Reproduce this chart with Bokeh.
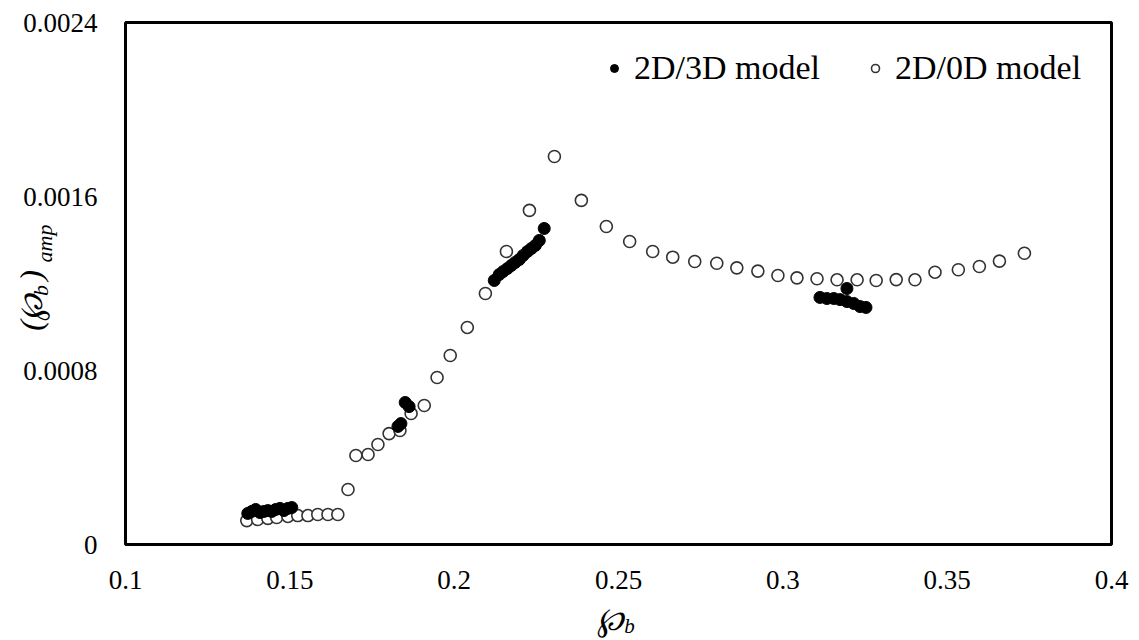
import math
from bokeh.plotting import figure
from bokeh.models import (Range1d, FixedTicker, Label, Legend, LegendItem,
                          ColumnDataSource, BoxAnnotation)
from bokeh.embed import file_html
from bokeh.resources import INLINE

# 2D/0D model (open circles)
x_0d = [0.1369, 0.1402, 0.1433, 0.1460, 0.1494, 0.1524, 0.1555, 0.1585, 0.1616, 0.1646,
        0.1677, 0.1701, 0.1738, 0.1768, 0.1802, 0.1835, 0.1869, 0.1909, 0.1948, 0.1988,
        0.2040, 0.2095, 0.2159, 0.2229, 0.2305, 0.2387, 0.2463, 0.2534, 0.2604, 0.2665,
        0.2732, 0.2799, 0.2860, 0.2924, 0.2985, 0.3043, 0.3104, 0.3165, 0.3226, 0.3284,
        0.3345, 0.3402, 0.3463, 0.3534, 0.3598, 0.3659, 0.3735]
y_0d = [0.000110, 0.000115, 0.000120, 0.000124, 0.000129, 0.000133, 0.000133, 0.000138, 0.000138, 0.000138,
        0.000253, 0.000409, 0.000414, 0.000460, 0.000510, 0.000524, 0.000602, 0.000639, 0.000768, 0.000869,
        0.000998, 0.001154, 0.001347, 0.001536, 0.001784, 0.001582, 0.001462, 0.001393, 0.001347, 0.001321,
        0.001301, 0.001293, 0.001272, 0.001257, 0.001237, 0.001226, 0.001222, 0.001217, 0.001217, 0.001214,
        0.001218, 0.001217, 0.001252, 0.001263, 0.001278, 0.001303, 0.001339]

# 2D/3D model (filled circles)
x_3d = [0.1372, 0.1384, 0.1396, 0.1409, 0.1421, 0.1433, 0.1445, 0.1457, 0.1470, 0.1482, 0.1494, 0.1506,
        0.1829, 0.1838, 0.1851, 0.1863,
        0.2122, 0.2137, 0.2149, 0.2162, 0.2174, 0.2186, 0.2198, 0.2210, 0.2223, 0.2235, 0.2247, 0.2259, 0.2274,
        0.3113, 0.3134, 0.3155, 0.3174, 0.3195, 0.3216, 0.3235, 0.3253, 0.3195]
y_3d = [0.000143, 0.000152, 0.000161, 0.000147, 0.000152, 0.000156, 0.000152, 0.000161, 0.000166, 0.000156, 0.000166, 0.000170,
        0.000543, 0.000556, 0.000653, 0.000634,
        0.001214, 0.001241, 0.001255, 0.001269, 0.001283, 0.001297, 0.001310, 0.001329, 0.001347, 0.001361, 0.001375, 0.001398, 0.001453,
        0.001136, 0.001131, 0.001131, 0.001126, 0.001117, 0.001108, 0.001094, 0.001090, 0.001177]

x_ticks = [0.1, 0.15, 0.2, 0.25, 0.3, 0.35, 0.4]
x_tick_labels = ["0.1", "0.15", "0.2", "0.25", "0.3", "0.35", "0.4"]
y_ticks = [0.0, 0.0008, 0.0016, 0.0024]
y_tick_labels = ["0", "0.0008", "0.0016", "0.0024"]

SERIF = "Liberation Serif"

# canvas and visible plot-box geometry (pixels)
W, H = 1135, 640
BOX_L, BOX_R, BOX_T, BOX_B = 125, 1111, 22, 544
XMIN, XMAX = x_ticks[0], x_ticks[-1]
YMIN, YMAX = y_ticks[0], y_ticks[-1]
xs = (XMAX - XMIN) / (BOX_R - BOX_L)
ys = (YMAX - YMIN) / (BOX_B - BOX_T)

p = figure(width=W, height=H, output_backend="svg", toolbar_location=None,
           x_range=Range1d(XMIN - BOX_L * xs, XMAX + (W - BOX_R) * xs),
           y_range=Range1d(YMIN - (H - BOX_B) * ys, YMAX + BOX_T * ys),
           min_border=0, min_border_left=0, min_border_right=0,
           min_border_top=0, min_border_bottom=0)
p.title.visible = False
p.xgrid.visible = False
p.ygrid.visible = False
p.outline_line_color = None
p.background_fill_color = "white"
p.border_fill_color = "white"

p.xaxis[0].fixed_location = YMIN
p.yaxis[0].fixed_location = XMIN
for ax, ticks, labels, standoff in ((p.xaxis[0], x_ticks, x_tick_labels, 20),
                                    (p.yaxis[0], y_ticks, y_tick_labels, 22)):
    ax.ticker = FixedTicker(ticks=ticks)
    ax.major_label_overrides = {t: l for t, l in zip(ticks, labels)}
    ax.axis_line_color = None
    ax.major_tick_line_color = None
    ax.minor_tick_line_color = None
    ax.major_label_text_font = SERIF
    ax.major_label_text_font_size = "27px"
    ax.major_label_text_color = "black"
    ax.major_label_standoff = standoff

src0 = ColumnDataSource(dict(x=x_0d, y=y_0d))
src3 = ColumnDataSource(dict(x=x_3d, y=y_3d))
r0 = p.scatter("x", "y", source=src0, size=12, marker="circle", fill_color="white",
               line_color="#333333", line_width=1.6)
r3 = p.scatter("x", "y", source=src3, size=12, marker="circle", fill_color="black",
               line_color="black", line_width=1)

# plot box
p.add_layout(BoxAnnotation(left=XMIN, right=XMAX, bottom=YMIN, top=YMAX,
                           fill_color=None, fill_alpha=0, line_color="black",
                           line_alpha=1.0, line_width=3))

legend = Legend(items=[LegendItem(label="2D/3D model", renderers=[r3]),
                       LegendItem(label="2D/0D model", renderers=[r0])],
                orientation="horizontal", location=(604, 553),
                label_text_font=SERIF, label_text_font_size="34px",
                label_text_color="black",
                label_standoff=10, spacing=45, glyph_width=20,
                border_line_color=None, background_fill_alpha=0, margin=0)
p.add_layout(legend)


def px_to_x(px):
    return XMIN + (px - BOX_L) * xs


def py_to_y(py):
    return YMIN + (BOX_B - py) * ys


def add_label(text, px, py, size, angle=0.0):
    p.add_layout(Label(x=px_to_x(px), y=py_to_y(py), text=text, angle=angle,
                       text_font=SERIF, text_font_size=size, text_font_style="italic",
                       text_align="center", text_baseline="middle", text_color="black"))


# x axis label: ℘ with subscript b
add_label("\u2118", 610, 618, "32px")
add_label("b", 629, 625, "21px")

# y axis label: (℘ b) amp, rotated
a = math.pi / 2
add_label("(", 30, 325, "32px", a)
add_label("\u2118", 30, 307, "32px", a)
add_label("b", 40, 290, "22px", a)
add_label(")", 30, 275, "32px", a)
add_label("amp", 44, 243, "22px", a)

open("out.html", "w").write(file_html(p, INLINE))
